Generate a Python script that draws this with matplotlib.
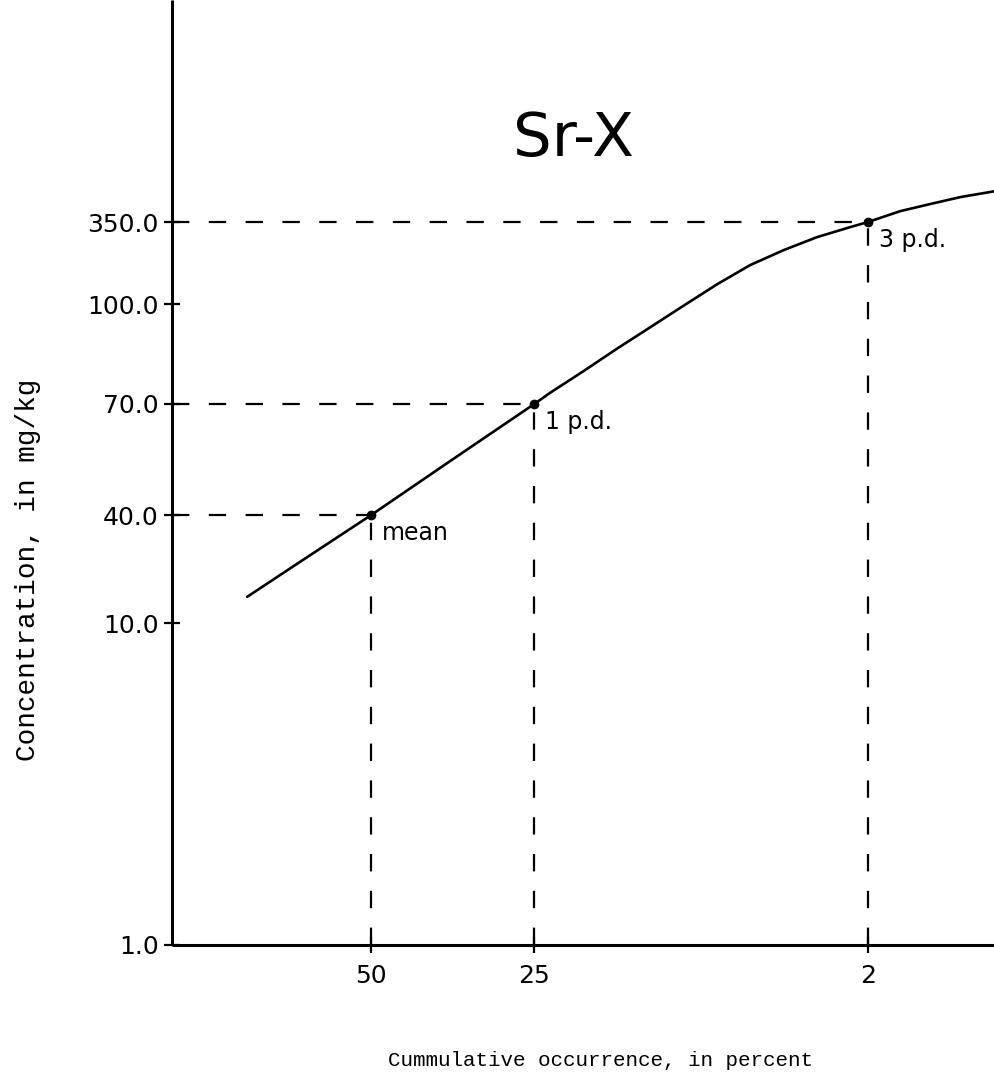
import numpy as np
import matplotlib
matplotlib.use('Agg')
import matplotlib.pyplot as plt
from statistics import NormalDist

# ---- данные ----
pct = [69.6, 61.6, 50.0, 37.2, 25.0, 23.0, 19.0, 15.5, 12.4, 9.85,
       7.6, 5.85, 4.4, 3.26, 2.38, 2.0, 1.43, 1.04, 0.74, 0.5]
conc = [14.0, 21.9, 40.0, 52.5, 70.0, 72.8, 78.7, 85.2, 92.1, 99.3,
        135.8, 181.4, 228.0, 278.0, 324.0, 350.0, 414.0, 461.0, 513.0, 560.0]

mark_pct = [50, 25, 2]
mark_conc = [40.0, 70.0, 350.0]
mark_labels = ['mean', '1 p.d.', '3 p.d.']

x_ticks = [50, 25, 2]
y_ticks = [1.0, 10.0, 40.0, 70.0, 100.0, 350.0]

# ---- шкалы ----
# ось Y нарисована от руки: узлы шкалы (доля высоты осей) для подписей
Y_KNOTS = np.log10(y_ticks)
Y_POS = np.array([0.0, 0.3407, 0.455, 0.5725, 0.6783, 0.765])
S_LO = (Y_POS[1] - Y_POS[0]) / (Y_KNOTS[1] - Y_KNOTS[0])
S_HI = (Y_POS[-1] - Y_POS[-2]) / (Y_KNOTS[-1] - Y_KNOTS[-2])


def y_fwd(v):
    lv = np.log10(np.clip(np.asarray(v, dtype=float), 1e-12, None))
    out = np.interp(lv, Y_KNOTS, Y_POS)
    out = np.where(lv > Y_KNOTS[-1], Y_POS[-1] + (lv - Y_KNOTS[-1]) * S_HI, out)
    out = np.where(lv < Y_KNOTS[0], Y_POS[0] + (lv - Y_KNOTS[0]) * S_LO, out)
    return out


def y_inv(p):
    p = np.asarray(p, dtype=float)
    lv = np.interp(p, Y_POS, Y_KNOTS)
    lv = np.where(p > Y_POS[-1], Y_KNOTS[-1] + (p - Y_POS[-1]) / S_HI, lv)
    lv = np.where(p < Y_POS[0], Y_KNOTS[0] + (p - Y_POS[0]) / S_LO, lv)
    return 10 ** lv


# ось X - вероятностная (нормальная) шкала
_nd = NormalDist()
_ppf = np.vectorize(lambda q: _nd.inv_cdf(q / 100.0), otypes=[float])
_cdf = np.vectorize(lambda z: 100.0 * _nd.cdf(z), otypes=[float])


def x_fwd(p):
    return _ppf(np.clip(np.asarray(p, dtype=float), 1e-6, 100 - 1e-6))


def x_inv(z):
    return _cdf(np.asarray(z, dtype=float))


# ---- рисунок ----
W, H = 994, 1081
fig = plt.figure(figsize=(W / 100, H / 100), dpi=100, facecolor='white')
ax = fig.add_axes([172 / W, 136 / H, 822 / W, 945 / H])

ax.set_xscale('function', functions=(x_fwd, x_inv))
ax.set_yscale('function', functions=(y_fwd, y_inv))
ax.set_xlim(79.5, 0.5)
ax.set_ylim(1.0, float(y_inv(1.0)))

for s in ['top', 'right']:
    ax.spines[s].set_visible(False)
for s in ['left', 'bottom']:
    ax.spines[s].set_linewidth(2.2)
    ax.spines[s].set_capstyle('butt')

ax.set_xticks(x_ticks, labels=[str(v) for v in x_ticks])
ax.set_yticks(y_ticks, labels=[f'{v:.1f}' for v in y_ticks])
ax.minorticks_off()
ax.tick_params(axis='both', direction='inout', length=11, width=1.6,
               labelsize=18, colors='black')
ax.tick_params(axis='y', pad=4)
ax.tick_params(axis='x', pad=8)

# кривая
ax.plot(pct, conc, color='black', lw=1.9, solid_capstyle='round',
        solid_joinstyle='round', zorder=3)

# пунктир к характерным точкам
lw_d = 1.6
dash = (0, (12.5 / lw_d, 14.0 / lw_d))
x_left = ax.get_xlim()[0]
for p, c in zip(mark_pct, mark_conc):
    ax.plot([x_left, p], [c, c], color='black', lw=lw_d, linestyle=dash, zorder=2)
    ax.plot([p, p], [1.0, c], color='black', lw=lw_d, linestyle=dash, zorder=2)

ax.plot(mark_pct, mark_conc, 'o', color='black', ms=6, zorder=4)

for p, c, lab in zip(mark_pct, mark_conc, mark_labels):
    ax.annotate(lab, xy=(p, c), xytext=(11, -25), textcoords='offset pixels',
                ha='left', va='baseline', fontsize=17)

# заголовок
ax.text(0.488, 0.852, 'Sr-X', transform=ax.transAxes, ha='center', va='center',
        fontsize=44)

# подписи осей (машинописный шрифт)
fig.text(28 / W, 1 - 570 / H, 'Concentration, in mg/kg', rotation=90,
         ha='center', va='center', fontsize=20, family='Liberation Mono')
fig.text(601 / W, 1 - 1060 / H, 'Cummulative occurrence, in percent',
         ha='center', va='center', fontsize=15, family='Liberation Mono')

fig.savefig('out.png', dpi=100, facecolor='white')
